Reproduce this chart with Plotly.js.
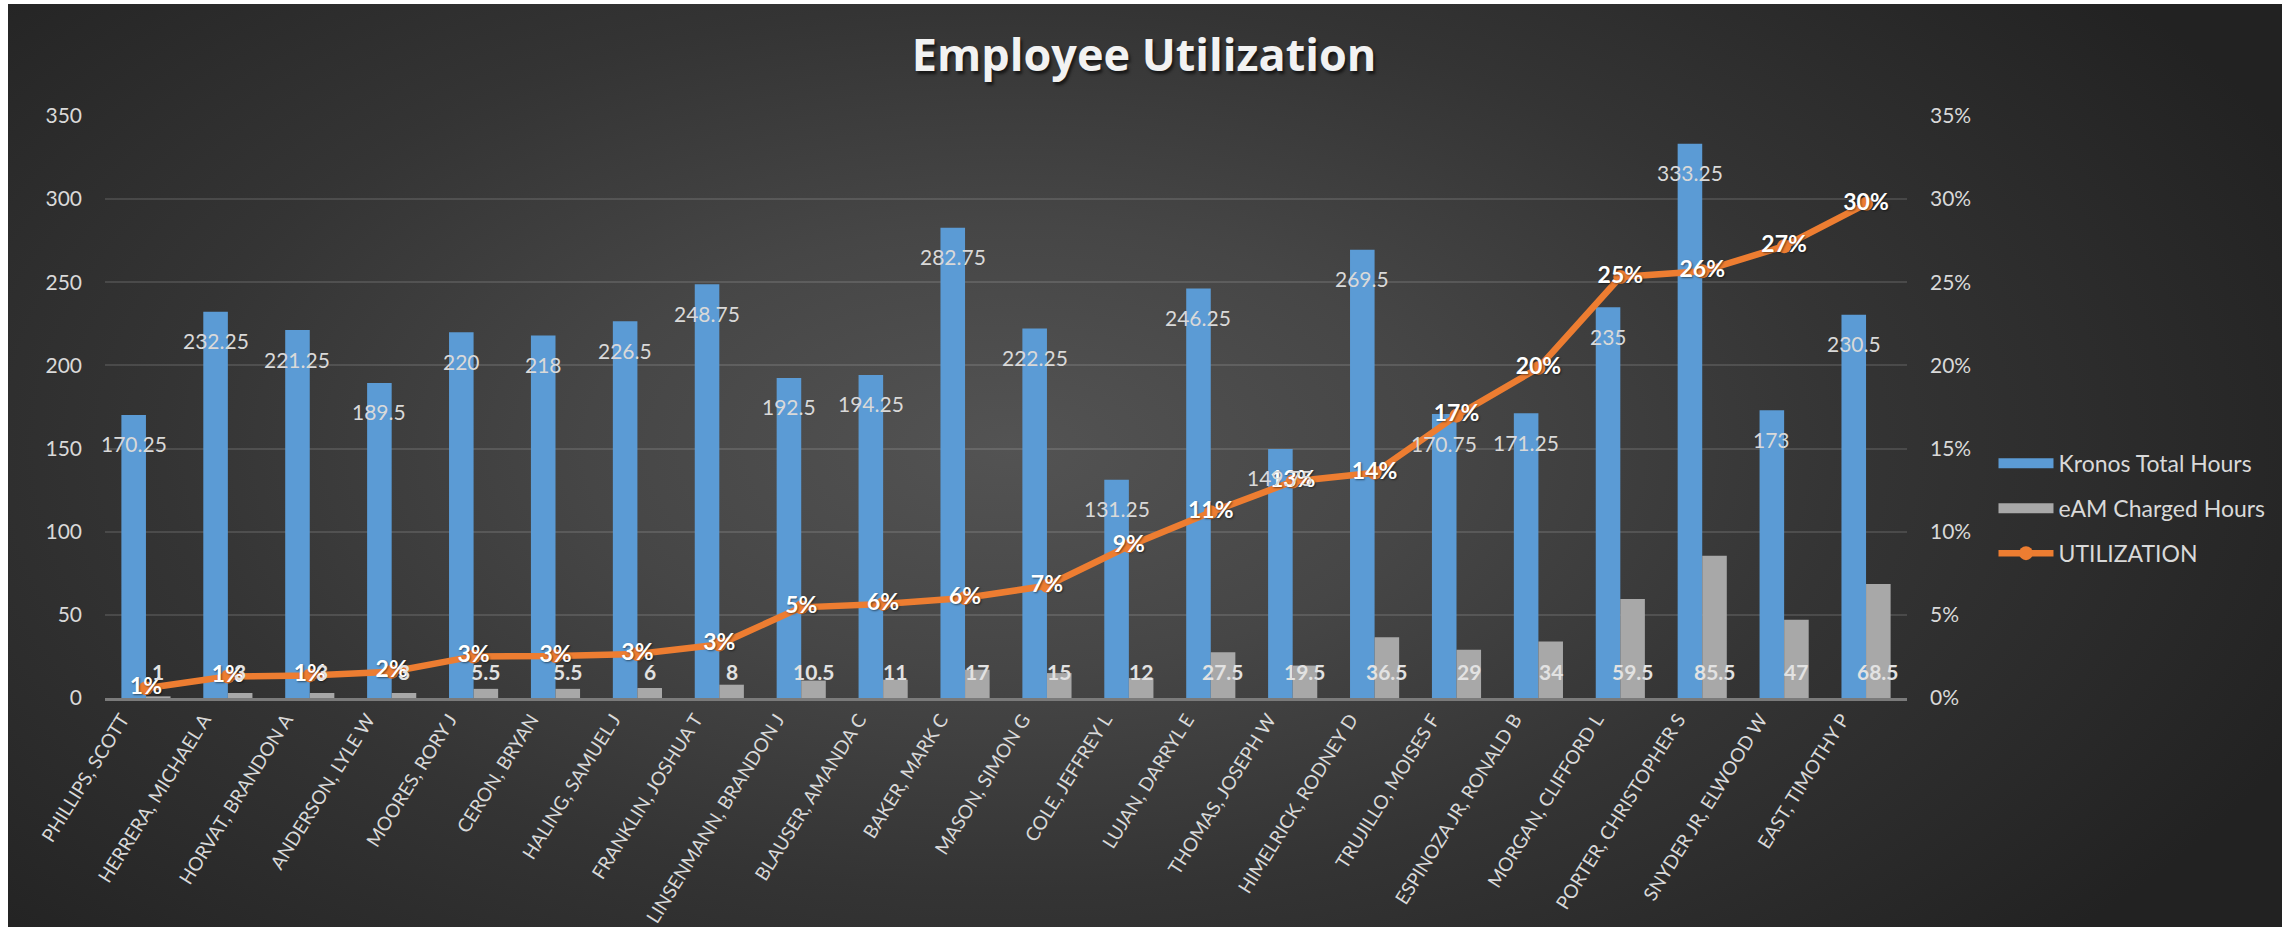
<!DOCTYPE html>
<html>
<head>
<meta charset="utf-8">
<script src="https://cdn.plot.ly/plotly-3.0.1.min.js"></script>
<style>
  html, body { margin: 0; padding: 0; background: #ffffff; width: 2287px; height: 932px; overflow: hidden; }
  #frame {
    position: absolute; left: 8px; top: 4px; width: 2274px; height: 923px;
    background: radial-gradient(ellipse 62% 80% at 44% 48%, #535353 0%, #464646 30%, #343434 60%, #222222 100%);
  }
  #chart { position: absolute; left: 0; top: 0; width: 2274px; height: 923px; }
</style>
</head>
<body>
<div id="frame"><div id="chart"></div></div>
<script>
const categories = [
  "PHILLIPS, SCOTT", "HERRERA, MICHAEL A", "HORVAT, BRANDON A", "ANDERSON, LYLE W",
  "MOORES, RORY J", "CERON, BRYAN", "HALING, SAMUEL J", "FRANKLIN, JOSHUA T",
  "LINSENMANN, BRANDON J", "BLAUSER, AMANDA C", "BAKER, MARK C", "MASON, SIMON G",
  "COLE, JEFFREY L", "LUJAN, DARRYL E", "THOMAS, JOSEPH W", "HIMELRICK, RODNEY D",
  "TRUJILLO, MOISES F", "ESPINOZA JR, RONALD B", "MORGAN, CLIFFORD L",
  "PORTER, CHRISTOPHER S", "SNYDER JR, ELWOOD W", "EAST, TIMOTHY P"
];
const kronosHours = [170.25, 232.25, 221.25, 189.5, 220, 218, 226.5, 248.75, 192.5, 194.25,
  282.75, 222.25, 131.25, 246.25, 149.75, 269.5, 170.75, 171.25, 235, 333.25, 173, 230.5];
const eamHours = [1, 3, 3, 3, 5.5, 5.5, 6, 8, 10.5, 11, 17, 15, 12, 27.5, 19.5, 36.5, 29, 34,
  59.5, 85.5, 47, 68.5];
const utilization = [0.0059, 0.0129, 0.0136, 0.0158, 0.0250, 0.0252, 0.0265, 0.0322, 0.0545,
  0.0566, 0.0601, 0.0675, 0.0914, 0.1117, 0.1302, 0.1354, 0.1698, 0.1985, 0.2532, 0.2566,
  0.2717, 0.2972];
const leftTickVals = [0, 50, 100, 150, 200, 250, 300, 350];
const rightTickVals = [0, 0.05, 0.10, 0.15, 0.20, 0.25, 0.30, 0.35];
const seriesNames = ["Kronos Total Hours", "eAM Charged Hours", "UTILIZATION"];
const seriesColors = ["#5b9bd5", "#a8a8a8", "#ed7d31"];

const FONT = "Lato, 'Open Sans', sans-serif";
const LABEL = "#d9d9d9";

const traces = [
  {
    type: "bar", name: seriesNames[0], x: categories, y: kronosHours,
    marker: { color: seriesColors[0] }, showlegend: false, hoverinfo: "y"
  },
  {
    type: "bar", name: seriesNames[1], x: categories, y: eamHours,
    marker: { color: seriesColors[1] }, showlegend: false, hoverinfo: "y"
  },
  // legend-only entries giving wide rectangular swatches like the original
  {
    type: "scatter", mode: "lines", name: seriesNames[0], x: [null], y: [null],
    line: { color: seriesColors[0], width: 14 }, legendgroup: "a", hoverinfo: "skip"
  },
  {
    type: "scatter", mode: "lines", name: seriesNames[1], x: [null], y: [null],
    line: { color: seriesColors[1], width: 14 }, legendgroup: "b", hoverinfo: "skip"
  },
  {
    type: "scatter", mode: "lines+markers+text", name: seriesNames[2],
    x: categories, y: utilization, yaxis: "y2", legendgroup: "c",
    line: { color: seriesColors[2], width: 6.5 },
    marker: { color: seriesColors[2], size: 14 },
    texttemplate: "%{y:.0%}", textposition: "middle center",
    textfont: { family: FONT, size: 23, color: "#ffffff", weight: "bold",
      shadow: "1px 1px 2px rgba(0,0,0,0.5)" }
  }
];

const annotations = [];
categories.forEach((c, i) => {
  annotations.push({
    x: c, y: kronosHours[i], xref: "x", yref: "y", showarrow: false,
    text: String(kronosHours[i]), xshift: -12.3, yshift: -29,
    font: { family: FONT, size: 21, color: LABEL }
  });
});
categories.forEach((c, i) => {
  annotations.push({
    x: c, y: 0, xref: "x", yref: "y", showarrow: false,
    text: "<b>" + eamHours[i] + "</b>", xshift: 12.3, yshift: 27,
    font: { family: FONT, size: 21, color: "#e2e2e2" }
  });
});

const layout = {
  width: 2274, height: 923,
  paper_bgcolor: "rgba(0,0,0,0)", plot_bgcolor: "rgba(0,0,0,0)",
  margin: { l: 97, r: 375, t: 112, b: 229, pad: 0 },
  font: { family: FONT, color: LABEL },
  title: {
    text: "Employee Utilization",
    x: 0.4996, xanchor: "center", xref: "container",
    y: 0.944, yanchor: "middle", yref: "container",
    font: { family: "'Open Sans', sans-serif", size: 45, color: "#f2f2f2", weight: "bold",
      shadow: "2px 3px 3px rgba(0,0,0,0.6)" }
  },
  barmode: "group", bargap: 0.4, bargroupgap: 0,
  xaxis: {
    type: "category", range: [-0.5, categories.length - 0.5], autorange: false,
    tickangle: -58, showgrid: false, zeroline: false,
    showline: true, linecolor: "#7b7b7b", linewidth: 3,
    ticks: "", ticklabelstandoff: 0, ticklabelshift: -24,
    tickfont: { family: FONT, size: 19, color: LABEL }
  },
  yaxis: {
    range: [0, 350], tickvals: leftTickVals, showgrid: true,
    gridcolor: "rgba(255,255,255,0.12)", gridwidth: 2, zeroline: false,
    showline: false, ticks: "", ticklabelstandoff: 22,
    tickfont: { family: FONT, size: 21, color: LABEL }
  },
  yaxis2: {
    overlaying: "y", side: "right", range: [0, 0.35], tickvals: rightTickVals,
    tickformat: ".0%", showgrid: false, zeroline: false, showline: false,
    ticks: "", ticklabelstandoff: 22,
    tickfont: { family: FONT, size: 21, color: LABEL }
  },
  showlegend: true,
  legend: {
    x: 1.048, xanchor: "left", y: 0.44, yanchor: "top",
    bgcolor: "rgba(0,0,0,0)", itemwidth: 55,
    traceorder: "grouped", tracegroupgap: 12,
    font: { family: FONT, size: 23, color: LABEL }
  },
  annotations: annotations
};

Plotly.newPlot("chart", traces, layout, { displayModeBar: false, staticPlot: true });
</script>
</body>
</html>
